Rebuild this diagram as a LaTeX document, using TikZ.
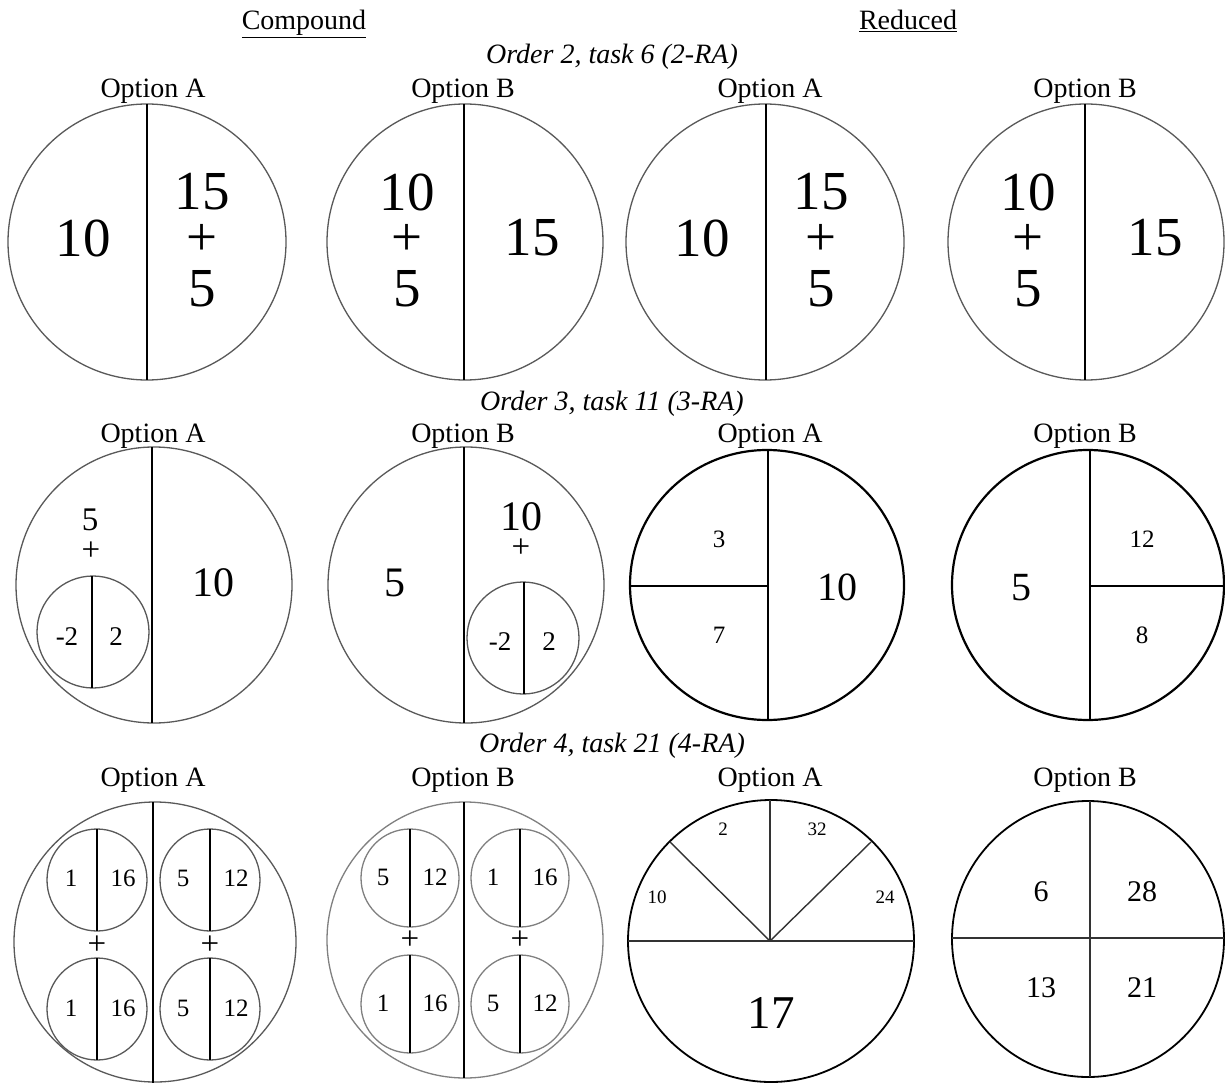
\documentclass[tikz,border=0pt]{standalone}
\usepackage{fontspec}
\setmainfont{Liberation Serif}
\begin{document}
\begin{tikzpicture}[x=1pt,y=-1pt,
  lab/.style={font=\fontsize{28}{30}\selectfont, inner sep=0, anchor=base},
  ttl/.style={font=\fontsize{28}{30}\selectfont\itshape, inner sep=0, anchor=base},
  num/.style={inner sep=0, font=\fontsize{#1}{#1}\selectfont},
  ring/.style={draw=black!65, line width=1.3pt},
  lightring/.style={draw=black!50, line width=1.3pt},
  boldring/.style={draw=black, line width=2.2pt},
  divline/.style={draw=black, line width=1.8pt},
  thinline/.style={draw=black!80, line width=1.4pt}]
\useasboundingbox (0,0) rectangle (1225,1083);
\fill[white] (0,0) rectangle (1225,1083);

% headings
\node[lab] (hc) at (304,30) {\underline{Compound}};
\node[lab] (hr) at (908,30) {\underline{Reduced}};

% ===== Row 1 =====
\node[ttl] (t1) at (612,64) {Order 2, task 6 (2-RA)};
\node[lab] (o1a) at (153,98) {Option A};
\node[lab] (o1b) at (463,98) {Option B};
\node[lab] (o1c) at (770,98) {Option A};
\node[lab] (o1d) at (1085,98) {Option B};

\draw[ring] (147,242) ellipse [x radius=139, y radius=138];
\draw[divline] (147,104) -- (147,380);
\node[num=55] (a1) at (83,238) {10};
\node[num=55] (a2) at (202,192) {15};
\node[num=55] (a3) at (202,240) {+};
\node[num=55] (a4) at (202,289) {5};

\draw[ring] (465,242) ellipse [x radius=138, y radius=138];
\draw[divline] (464,104) -- (464,380);
\node[num=55] (b1) at (407,192) {10};
\node[num=55] (b2) at (407,240) {+};
\node[num=55] (b3) at (407,289) {5};
\node[num=55] (b4) at (532,238) {15};

\draw[ring] (765,242) ellipse [x radius=139, y radius=138];
\draw[divline] (766,104) -- (766,380);
\node[num=55] (c1) at (702,238) {10};
\node[num=55] (c2) at (821,192) {15};
\node[num=55] (c3) at (821,240) {+};
\node[num=55] (c4) at (821,289) {5};

\draw[ring] (1086,242) ellipse [x radius=138, y radius=138];
\draw[divline] (1085,104) -- (1085,380);
\node[num=55] (d1) at (1028,192) {10};
\node[num=55] (d2) at (1028,240) {+};
\node[num=55] (d3) at (1028,289) {5};
\node[num=55] (d4) at (1155,238) {15};

% ===== Row 2 =====
\node[ttl] (t2) at (612,410) {Order 3, task 11 (3-RA)};
\node[lab] (o2a) at (153,442) {Option A};
\node[lab] (o2b) at (463,442) {Option B};
\node[lab] (o2c) at (770,442) {Option A};
\node[lab] (o2d) at (1085,442) {Option B};

\draw[ring] (154,585) ellipse [x radius=138, y radius=138];
\draw[divline] (152,447) -- (152,723);
\node[num=33] (e1) at (90,520) {5};
\node[num=33] (e2) at (91,551) {+};
\draw[ring] (93,632) circle [radius=56];
\draw[divline] (92,576) -- (92,688);
\node[num=27] (e3) at (67,637) {-2};
\node[num=27] (e4) at (116,637) {2};
\node[num=42] (e5) at (213,583) {10};

\draw[ring] (466,585) ellipse [x radius=138, y radius=138];
\draw[divline] (464,447) -- (464,723);
\node[num=42] (f1) at (395,583) {5};
\node[num=42] (f2) at (521,517) {10};
\node[num=33] (f3) at (521,548) {+};
\draw[ring] (523,638) circle [radius=56];
\draw[divline] (524,582) -- (524,694);
\node[num=27] (f4) at (500,642) {-2};
\node[num=27] (f5) at (549,642) {2};

\draw[boldring] (767,585) ellipse [x radius=137, y radius=135];
\draw[divline] (768,450) -- (768,720);
\draw[divline] (630,586) -- (768,586);
\node[num=25] (g1) at (719,539) {3};
\node[num=25] (g2) at (719,635) {7};
\node[num=40] (g3) at (837,587) {10};

\draw[boldring] (1088,585) ellipse [x radius=136, y radius=135];
\draw[divline] (1090,450) -- (1090,720);
\draw[divline] (1090,586) -- (1224,586);
\node[num=40] (h1) at (1021,588) {5};
\node[num=25] (h2) at (1142,539) {12};
\node[num=25] (h3) at (1142,635) {8};

% ===== Row 3 =====
\node[ttl] (t3) at (612,752) {Order 4, task 21 (4-RA)};
\node[lab] (o3a) at (153,786) {Option A};
\node[lab] (o3b) at (463,786) {Option B};
\node[lab] (o3c) at (770,786) {Option A};
\node[lab] (o3d) at (1085,786) {Option B};

\draw[ring] (155,942) ellipse [x radius=141, y radius=140];
\draw[divline] (153,802) -- (153,1083);
\foreach \cx/\cy in {97/880, 210/880, 97/1009, 210/1009}{
  \draw[ring] (\cx,\cy) ellipse [x radius=50, y radius=51];
  \draw[divline] (\cx,\cy-51) -- (\cx,\cy+51);
}
\node[num=33] (i1) at (97,945) {+};
\node[num=33] (i2) at (210,945) {+};
\node[num=25] (i3) at (71,878) {1};
\node[num=25] (i4) at (123,878) {16};
\node[num=25] (i5) at (183,878) {5};
\node[num=25] (i6) at (236,878) {12};
\node[num=25] (i7) at (71,1008) {1};
\node[num=25] (i8) at (123,1008) {16};
\node[num=25] (i9) at (183,1008) {5};
\node[num=25] (i10) at (236,1008) {12};

\draw[lightring] (465,940) ellipse [x radius=138, y radius=138];
\draw[divline] (464,802) -- (464,1078);
\foreach \cx/\cy in {410/878, 520/878, 410/1004, 520/1004}{
  \draw[lightring] (\cx,\cy) ellipse [x radius=49, y radius=49];
  \draw[divline] (\cx,\cy-49) -- (\cx,\cy+49);
}
\node[num=33] (j1) at (410,940) {+};
\node[num=33] (j2) at (520,940) {+};
\node[num=25] (j3) at (383,877) {5};
\node[num=25] (j4) at (435,877) {12};
\node[num=25] (j5) at (493,877) {1};
\node[num=25] (j6) at (545,877) {16};
\node[num=25] (j7) at (383,1003) {1};
\node[num=25] (j8) at (435,1003) {16};
\node[num=25] (j9) at (493,1003) {5};
\node[num=25] (j10) at (545,1003) {12};

\draw[boldring, line width=1.8pt] (771,941) ellipse [x radius=143, y radius=141];
\draw[thinline] (628,941) -- (914,941);
\draw[thinline] (770,800) -- (770,941);
\draw[thinline] (770,941) -- (670,842);
\draw[thinline] (770,941) -- (871,842);
\node[num=19] (k1) at (723,829) {2};
\node[num=19] (k2) at (817,829) {32};
\node[num=19] (k3) at (657,897) {10};
\node[num=19] (k4) at (885,897) {24};
\node[num=47] (k5) at (771,1013) {17};

\draw[boldring, line width=1.8pt] (1088,939) ellipse [x radius=136, y radius=138];
\draw[thinline] (1090,801) -- (1090,1077);
\draw[thinline] (952,938) -- (1224,938);
\node[num=30] (l1) at (1041,892) {6};
\node[num=30] (l2) at (1142,892) {28};
\node[num=30] (l3) at (1041,988) {13};
\node[num=30] (l4) at (1142,988) {21};
\end{tikzpicture}
\end{document}
